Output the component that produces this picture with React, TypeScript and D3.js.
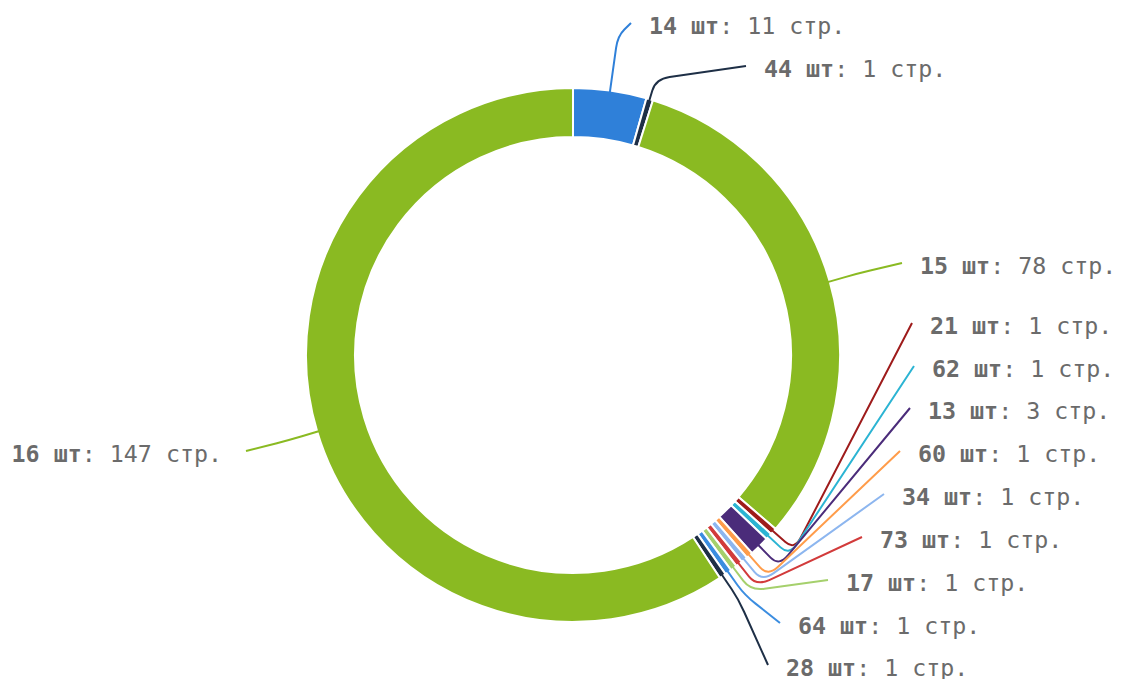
import React, { useEffect, useRef } from 'react';
import * as d3 from 'd3';

// slices in clockwise order from 12 o'clock
const sizes = ['14', '44', '15', '21', '62', '13', '60', '34', '73', '17', '64', '28', '16'];
const pages = [11, 1, 78, 1, 1, 3, 1, 1, 1, 1, 1, 1, 147];
const colors = [
  '#2f80d9', '#1e2f46', '#8aba22', '#9e1b1b', '#2bb4d3', '#4b2c7a', '#ff9c4a',
  '#8db6ef', '#d23b3b', '#a5d06c', '#3b8de0', '#1e2f46', '#8aba22',
];
// where each label sits (text start for right side, text end for left side)
const labelPos: [number, number][] = [
  [649, 26], [764, 69], [920, 266], [930, 326], [932, 369], [928, 411], [918, 454],
  [902, 497], [880, 540], [846, 583], [798, 626], [786, 668], [222, 454],
];

const App: React.FC = () => {
  const ref = useRef<SVGSVGElement | null>(null);

  useEffect(() => {
    if (!ref.current) return;
    const svg = d3.select(ref.current);
    svg.selectAll('*').remove();

    const cx = 573;
    const cy = 355;
    const outer = 267;
    const inner = 218;

    const pie = d3.pie<number>().sort(null).value((d) => d);
    const arcs = pie(pages);
    const arc = d3.arc<d3.PieArcDatum<number>>().innerRadius(inner).outerRadius(outer);

    const g = svg.append('g').attr('transform', `translate(${cx},${cy})`);

    g.selectAll('path.slice')
      .data(arcs)
      .enter()
      .append('path')
      .attr('class', 'slice')
      .attr('d', arc)
      .attr('fill', (_, i) => colors[i])
      .attr('stroke', '#fff')
      .attr('stroke-width', 2);

    const polar = (r: number, a: number): [number, number] => [r * Math.sin(a), -r * Math.cos(a)];

    arcs.forEach((d, i) => {
      const a = (d.startAngle + d.endAngle) / 2;
      const [lx, ly] = labelPos[i];
      const right = lx > cx;
      const ex = (right ? lx - 18 : lx + 24) - cx;
      const ey = ly - 3 - cy;
      let rb = outer + 28;
      if (ey < -outer) {
        rb = (-(ey + 13)) / Math.cos(a);
      }
      const p0 = polar(outer - 4, a);
      const pb = polar(rb, a);
      const pa = polar(rb - 12, a);
      const dx = ex - pb[0];
      const dy = ey - pb[1];
      const len = Math.hypot(dx, dy);
      const k = Math.min(14, len / 2) / len;
      const pc: [number, number] = [pb[0] + dx * k, pb[1] + dy * k];
      const path = `M${p0[0]},${p0[1]}L${pa[0]},${pa[1]}Q${pb[0]},${pb[1]} ${pc[0]},${pc[1]}L${ex},${ey}`;
      g.append('path')
        .attr('d', path)
        .attr('fill', 'none')
        .attr('stroke', colors[i])
        .attr('stroke-width', 2);

      const t = svg
        .append('text')
        .attr('x', lx)
        .attr('y', ly)
        .attr('dy', '0.35em')
        .attr('text-anchor', right ? 'start' : 'end')
        .attr('font-family', 'DejaVu Sans Mono')
        .attr('font-size', 23.3)
        .attr('fill', '#6b6b6b');
      t.append('tspan').attr('font-weight', 'bold').text(`${sizes[i]} шт`);
      t.append('tspan').text(`: ${pages[i]} стр.`);
    });
  }, []);

  return (
    <svg
      ref={ref}
      width={1121}
      height={679}
      style={{ position: 'absolute', left: 0, top: 0, background: '#fff' }}
    ></svg>
  );
};

export default App;
